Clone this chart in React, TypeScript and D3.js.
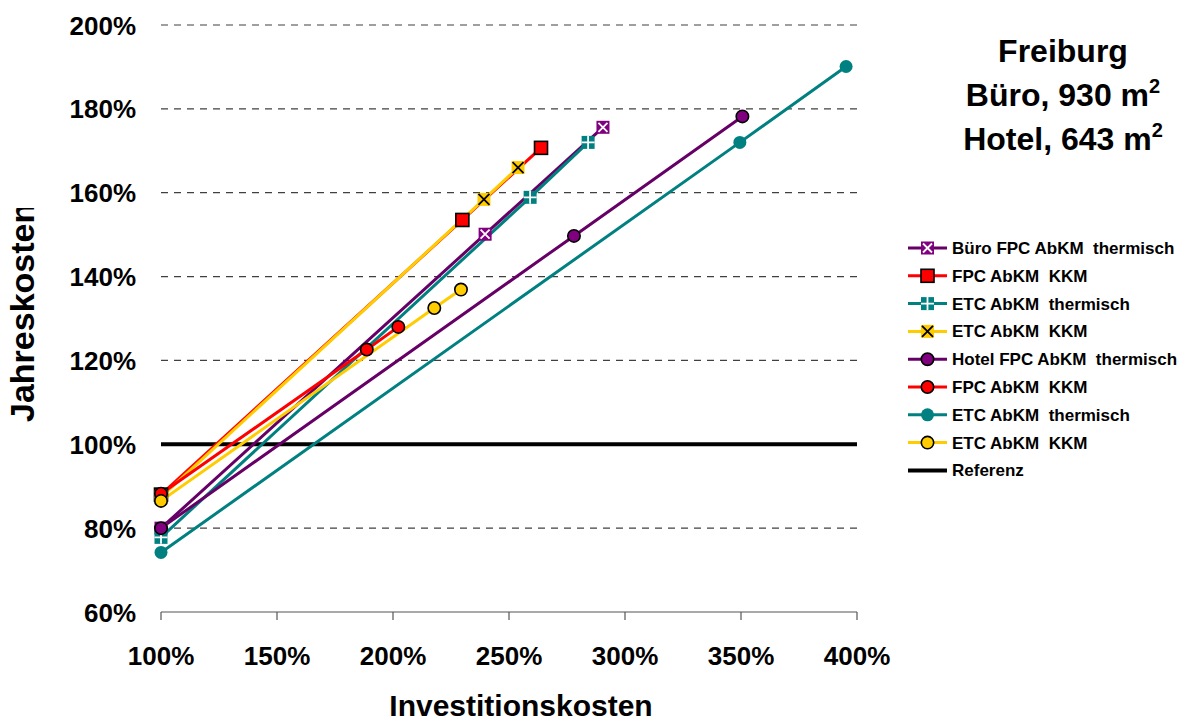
import React from "react";
import * as d3 from "d3";

const W = 1185;
const H = 723;

const xTicks = [100, 150, 200, 250, 300, 350, 400];
const yTicks = [60, 80, 100, 120, 140, 160, 180, 200];

const seriesNames = [
  "Büro FPC AbKM  thermisch",
  "FPC AbKM  KKM",
  "ETC AbKM  thermisch",
  "ETC AbKM  KKM",
  "Hotel FPC AbKM  thermisch",
  "FPC AbKM  KKM",
  "ETC AbKM  thermisch",
  "ETC AbKM  KKM",
];

const buroFpcThermX = [100, 239.7, 290.5];
const buroFpcThermY = [80, 150.1, 175.6];
const buroFpcKkmX = [100, 229.9, 263.8];
const buroFpcKkmY = [88, 153.5, 170.7];
const buroEtcThermX = [100, 259.1, 284.1];
const buroEtcThermY = [77.8, 158.9, 172.0];
const buroEtcKkmX = [100, 239.2, 253.9];
const buroEtcKkmY = [87.4, 158.4, 166.0];
const hotelFpcThermX = [100, 278.0, 350.6];
const hotelFpcThermY = [80, 149.7, 178.2];
const hotelFpcKkmX = [100, 188.7, 202.3];
const hotelFpcKkmY = [88.2, 122.6, 128.0];
const hotelEtcThermX = [100, 349.5, 395.3];
const hotelEtcThermY = [74.2, 172.0, 190.1];
const hotelEtcKkmX = [100, 217.8, 229.3];
const hotelEtcKkmY = [86.5, 132.5, 136.9];

const referenceX = [100, 400];
const referenceY = [100, 100];

const PURPLE_LINE = "#660066";
const PURPLE = "#800080";
const RED = "#FF0000";
const TEAL = "#008080";
const YELLOW = "#FFCC00";

const series = [
  { name: seriesNames[0], xs: buroFpcThermX, ys: buroFpcThermY, line: PURPLE_LINE, fill: PURPLE, marker: "sqX" },
  { name: seriesNames[1], xs: buroFpcKkmX, ys: buroFpcKkmY, line: RED, fill: RED, marker: "sqRed" },
  { name: seriesNames[2], xs: buroEtcThermX, ys: buroEtcThermY, line: TEAL, fill: TEAL, marker: "sqCross" },
  { name: seriesNames[3], xs: buroEtcKkmX, ys: buroEtcKkmY, line: YELLOW, fill: YELLOW, marker: "sqBlackX" },
  { name: seriesNames[4], xs: hotelFpcThermX, ys: hotelFpcThermY, line: PURPLE_LINE, fill: PURPLE, marker: "circle" },
  { name: seriesNames[5], xs: hotelFpcKkmX, ys: hotelFpcKkmY, line: RED, fill: RED, marker: "circle" },
  { name: seriesNames[6], xs: hotelEtcThermX, ys: hotelEtcThermY, line: TEAL, fill: TEAL, marker: "circleNoStroke" },
  { name: seriesNames[7], xs: hotelEtcKkmX, ys: hotelEtcKkmY, line: YELLOW, fill: YELLOW, marker: "circle" },
];

const x = d3.scaleLinear().domain([100, 400]).range([161, 857]);
const y = d3.scaleLinear().domain([60, 200]).range([612, 25]);

function MarkerShape({ kind, cx, cy, fill }: { kind: string; cx: number; cy: number; fill: string }) {
  const s = 6.5;
  if (kind === "circle") return <circle cx={cx} cy={cy} r={6.2} fill={fill} stroke="#000" strokeWidth={1.6} />;
  if (kind === "circleNoStroke") return <circle cx={cx} cy={cy} r={6.5} fill={fill} />;
  if (kind === "sqRed")
    return <rect x={cx - s} y={cy - s} width={2 * s} height={2 * s} fill={fill} stroke="#000" strokeWidth={1.6} />;
  if (kind === "sqX")
    return (
      <g>
        <rect x={cx - s} y={cy - s} width={2 * s} height={2 * s} fill={fill} />
        <path d={`M${cx - s + 2},${cy - s + 2}L${cx + s - 2},${cy + s - 2}M${cx + s - 2},${cy - s + 2}L${cx - s + 2},${cy + s - 2}`} stroke="#fff" strokeWidth={1.8} />
      </g>
    );
  if (kind === "sqCross")
    return (
      <g>
        <rect x={cx - s} y={cy - s} width={2 * s} height={2 * s} fill={fill} />
        <path d={`M${cx},${cy - s}L${cx},${cy + s}M${cx - s},${cy}L${cx + s},${cy}`} stroke="#fff" strokeWidth={1.8} />
      </g>
    );
  if (kind === "sqBlackX")
    return (
      <g>
        <rect x={cx - s} y={cy - s} width={2 * s} height={2 * s} fill={fill} />
        <path d={`M${cx - s + 1},${cy - s + 1}L${cx + s - 1},${cy + s - 1}M${cx + s - 1},${cy - s + 1}L${cx - s + 1},${cy + s - 1}`} stroke="#000" strokeWidth={1.8} />
      </g>
    );
  return null;
}

export default function App() {
  const line = d3
    .line<[number, number]>()
    .x((d) => x(d[0]))
    .y((d) => y(d[1]));
  const font = "Liberation Sans, Arial, sans-serif";
  const legendX0 = 908;
  const legendX1 = 947;
  const legendY0 = 248;
  const legendStep = 27.8;

  return (
    <svg width={W} height={H} style={{ position: "absolute", left: 0, top: 0, background: "#fff" }} fontFamily={font}>
      <defs>
        <clipPath id="ylabclip">
          <rect x={0} y={208} width={80} height={400} />
        </clipPath>
      </defs>
      <rect x={0} y={0} width={W} height={H} fill="#fff" />
      {/* grid */}
      {yTicks
        .filter((t) => t !== 60 && t !== 100)
        .map((t) => (
          <line key={t} x1={x(100)} x2={x(400)} y1={y(t)} y2={y(t)} stroke="#404040" strokeWidth={1.2} strokeDasharray="7,6" />
        ))}
      {/* x axis */}
      <line x1={x(100)} x2={x(400)} y1={y(60)} y2={y(60)} stroke="#555" strokeWidth={1.2} />
      {xTicks.map((t) => (
        <g key={t}>
          <line x1={x(t)} x2={x(t)} y1={y(60)} y2={y(60) + 8} stroke="#555" strokeWidth={1.2} />
          <text x={x(t)} y={665} textAnchor="middle" fontSize={26} fontWeight="bold">
            {t}%
          </text>
        </g>
      ))}
      {yTicks.map((t) => (
        <text key={t} x={136} y={y(t) + 9.5} textAnchor="end" fontSize={26} fontWeight="bold">
          {t}%
        </text>
      ))}
      {/* reference */}
      <path d={line(referenceX.map((v, i) => [v, referenceY[i]]) as [number, number][]) || ""} stroke="#000" strokeWidth={4} fill="none" />
      {/* series lines */}
      {series.map((s, i) => (
        <path key={i} d={line(s.xs.map((v, j) => [v, s.ys[j]]) as [number, number][]) || ""} stroke={s.line} strokeWidth={3} fill="none" />
      ))}
      {series.map((s, i) => (
        <g key={"m" + i}>
          {s.xs.map((v, j) => (
            <MarkerShape key={j} kind={s.marker} cx={x(v)} cy={y(s.ys[j])} fill={s.fill} />
          ))}
        </g>
      ))}
      {/* axis titles */}
      <text x={521} y={716} textAnchor="middle" fontSize={30} fontWeight="bold">
        Investitionskosten
      </text>
      <g clipPath="url(#ylabclip)">
        <text transform="translate(34,422) rotate(-90)" textAnchor="start" fontSize={34} fontWeight="bold">
          Jahreskosten
        </text>
      </g>
      {/* title */}
      <g fontWeight="bold" textAnchor="middle" fontSize={32}>
        <text x={1063} y={62}>Freiburg</text>
        <text x={1063} y={106}>
          Büro, 930 m<tspan dy={-13} fontSize={20}>2</tspan>
        </text>
        <text x={1063} y={150}>
          Hotel, 643 m<tspan dy={-13} fontSize={20}>2</tspan>
        </text>
      </g>
      {/* legend */}
      {series.map((s, i) => {
        const ly = legendY0 + i * legendStep;
        return (
          <g key={"l" + i}>
            <line x1={legendX0} x2={legendX1} y1={ly} y2={ly} stroke={s.line} strokeWidth={3} />
            <MarkerShape kind={s.marker} cx={(legendX0 + legendX1) / 2} cy={ly} fill={s.fill} />
            <text x={952} y={ly + 6} fontSize={17} fontWeight="bold" style={{ whiteSpace: "pre" }}>
              {s.name}
            </text>
          </g>
        );
      })}
      {(() => {
        const ly = legendY0 + series.length * legendStep;
        return (
          <g>
            <line x1={legendX0} x2={legendX1} y1={ly} y2={ly} stroke="#000" strokeWidth={4} />
            <text x={952} y={ly + 6} fontSize={17} fontWeight="bold">
              Referenz
            </text>
          </g>
        );
      })()}
    </svg>
  );
}
